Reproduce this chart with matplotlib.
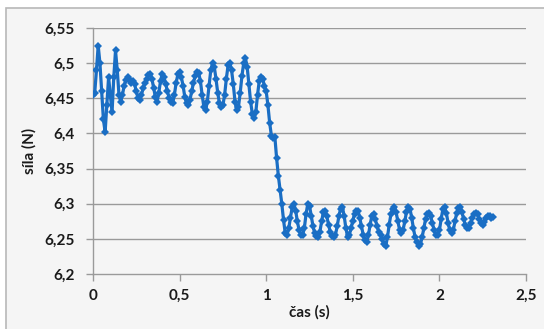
import matplotlib
matplotlib.use("Agg")
import matplotlib.pyplot as plt
from matplotlib.patches import Rectangle
import numpy as np

# sampling of the time axis (s)
t_start = 0.0
dt = 0.01

force = [
    6.455, 6.458, 6.49, 6.525, 6.50, 6.46, 6.42, 6.402, 6.44, 6.48,
    6.455, 6.43, 6.48, 6.518, 6.49, 6.455, 6.445, 6.455, 6.468, 6.476,
    6.48, 6.478, 6.472, 6.475, 6.47, 6.46, 6.45, 6.447, 6.455, 6.465,
    6.472, 6.478, 6.483, 6.485, 6.478, 6.465, 6.452, 6.445, 6.458, 6.475,
    6.485, 6.48, 6.47, 6.46, 6.45, 6.445, 6.443, 6.455, 6.472, 6.484,
    6.487, 6.48, 6.468, 6.452, 6.443, 6.44, 6.448, 6.46, 6.472, 6.482,
    6.487, 6.486, 6.475, 6.455, 6.438, 6.433, 6.445, 6.468, 6.49, 6.50,
    6.495, 6.478, 6.458, 6.443, 6.438, 6.44, 6.455, 6.478, 6.497, 6.50,
    6.49, 6.47, 6.445, 6.433, 6.438, 6.458, 6.482, 6.50, 6.507, 6.495,
    6.47, 6.445, 6.428, 6.422, 6.43, 6.455, 6.475, 6.48, 6.477, 6.468,
    6.46, 6.44, 6.415, 6.397, 6.393, 6.395, 6.365, 6.34, 6.32, 6.30,
    6.277, 6.258, 6.255, 6.265, 6.28, 6.295, 6.30, 6.29, 6.275, 6.262,
    6.256, 6.255, 6.265, 6.285, 6.30, 6.297, 6.283, 6.268, 6.258, 6.254,
    6.253, 6.26, 6.275, 6.288, 6.29, 6.282, 6.27, 6.26, 6.254, 6.253,
    6.256, 6.268, 6.283, 6.293, 6.295, 6.283, 6.265, 6.253, 6.256, 6.265,
    6.276, 6.286, 6.29, 6.29, 6.28, 6.268, 6.256, 6.248, 6.245, 6.255,
    6.27, 6.283, 6.285, 6.278, 6.268, 6.26, 6.255, 6.25, 6.242, 6.24,
    6.252, 6.27, 6.285, 6.293, 6.295, 6.288, 6.275, 6.263, 6.258, 6.262,
    6.275, 6.288, 6.295, 6.293, 6.28, 6.265, 6.252, 6.245, 6.24, 6.242,
    6.252, 6.265, 6.278, 6.285, 6.287, 6.282, 6.272, 6.262, 6.256, 6.255,
    6.262, 6.278, 6.292, 6.295, 6.287, 6.273, 6.262, 6.258, 6.262, 6.275,
    6.287, 6.294, 6.295, 6.288, 6.278, 6.27, 6.265, 6.266, 6.272, 6.28,
    6.285, 6.287, 6.285, 6.278, 6.272, 6.27, 6.274, 6.28, 6.283, 6.283,
    6.279, 6.281,
]
time = [round(t_start + i * dt, 2) for i in range(len(force))]

xtick_vals = [0, 0.5, 1, 1.5, 2, 2.5]
xtick_labels = ["0", "0,5", "1", "1,5", "2", "2,5"]
ytick_vals = [6.2, 6.25, 6.3, 6.35, 6.4, 6.45, 6.5, 6.55]
ytick_labels = ["6,2", "6,25", "6,3", "6,35", "6,4", "6,45", "6,5", "6,55"]
x_label = "čas (s)"
y_label = "síla (N)"

W, H = 544, 329
fig = plt.figure(figsize=(W / 100, H / 100), dpi=100, facecolor="white")
# chart area background with border
bg = Rectangle((6 / W, -0.05), 1.2, (329 - 8) / H + 0.05,
               transform=fig.transFigure, facecolor="#f5f5f5",
               edgecolor="#b8b8b8", linewidth=1.2)
bg.set_zorder(-10)
fig.patches.append(bg)

ax = fig.add_axes([93 / W, (H - 274) / H, (526 - 93) / W, (274 - 28) / H])
ax.set_zorder(5)
ax.set_facecolor("none")

grid_c = "#9a9a9a"
for yv in ytick_vals[1:]:
    ax.axhline(yv, color=grid_c, lw=1.0, zorder=1)

line_c = "#1a6ec4"
ax.plot(time, force, color=line_c, lw=2.3, marker="D", markersize=4.2,
        markeredgewidth=0, zorder=3)

ax.set_xlim(0, 2.5)
ax.set_ylim(6.2, 6.55)
ax.set_xticks(xtick_vals)
ax.set_xticklabels(xtick_labels)
ax.set_yticks(ytick_vals)
ax.set_yticklabels(ytick_labels)

for s in ["top", "right"]:
    ax.spines[s].set_visible(False)
for s in ["left", "bottom"]:
    ax.spines[s].set_color(grid_c)
    ax.spines[s].set_linewidth(1.0)

font = "Lato"
ax.tick_params(axis="both", direction="out", length=5, width=1.0,
               color=grid_c, labelsize=11, labelcolor="#1a1a1a")
for lab in ax.get_xticklabels() + ax.get_yticklabels():
    lab.set_fontfamily(font)
    lab.set_fontweight("bold")
ax.tick_params(axis="x", pad=6)
ax.tick_params(axis="y", pad=8)

ax.set_xlabel(x_label, fontfamily=font, fontweight="bold", fontsize=11,
              color="#1a1a1a", labelpad=1)
ax.set_ylabel(y_label, fontfamily=font, fontweight="bold", fontsize=11,
              color="#1a1a1a", labelpad=6)

fig.savefig("out.png", dpi=100, facecolor=fig.get_facecolor())
